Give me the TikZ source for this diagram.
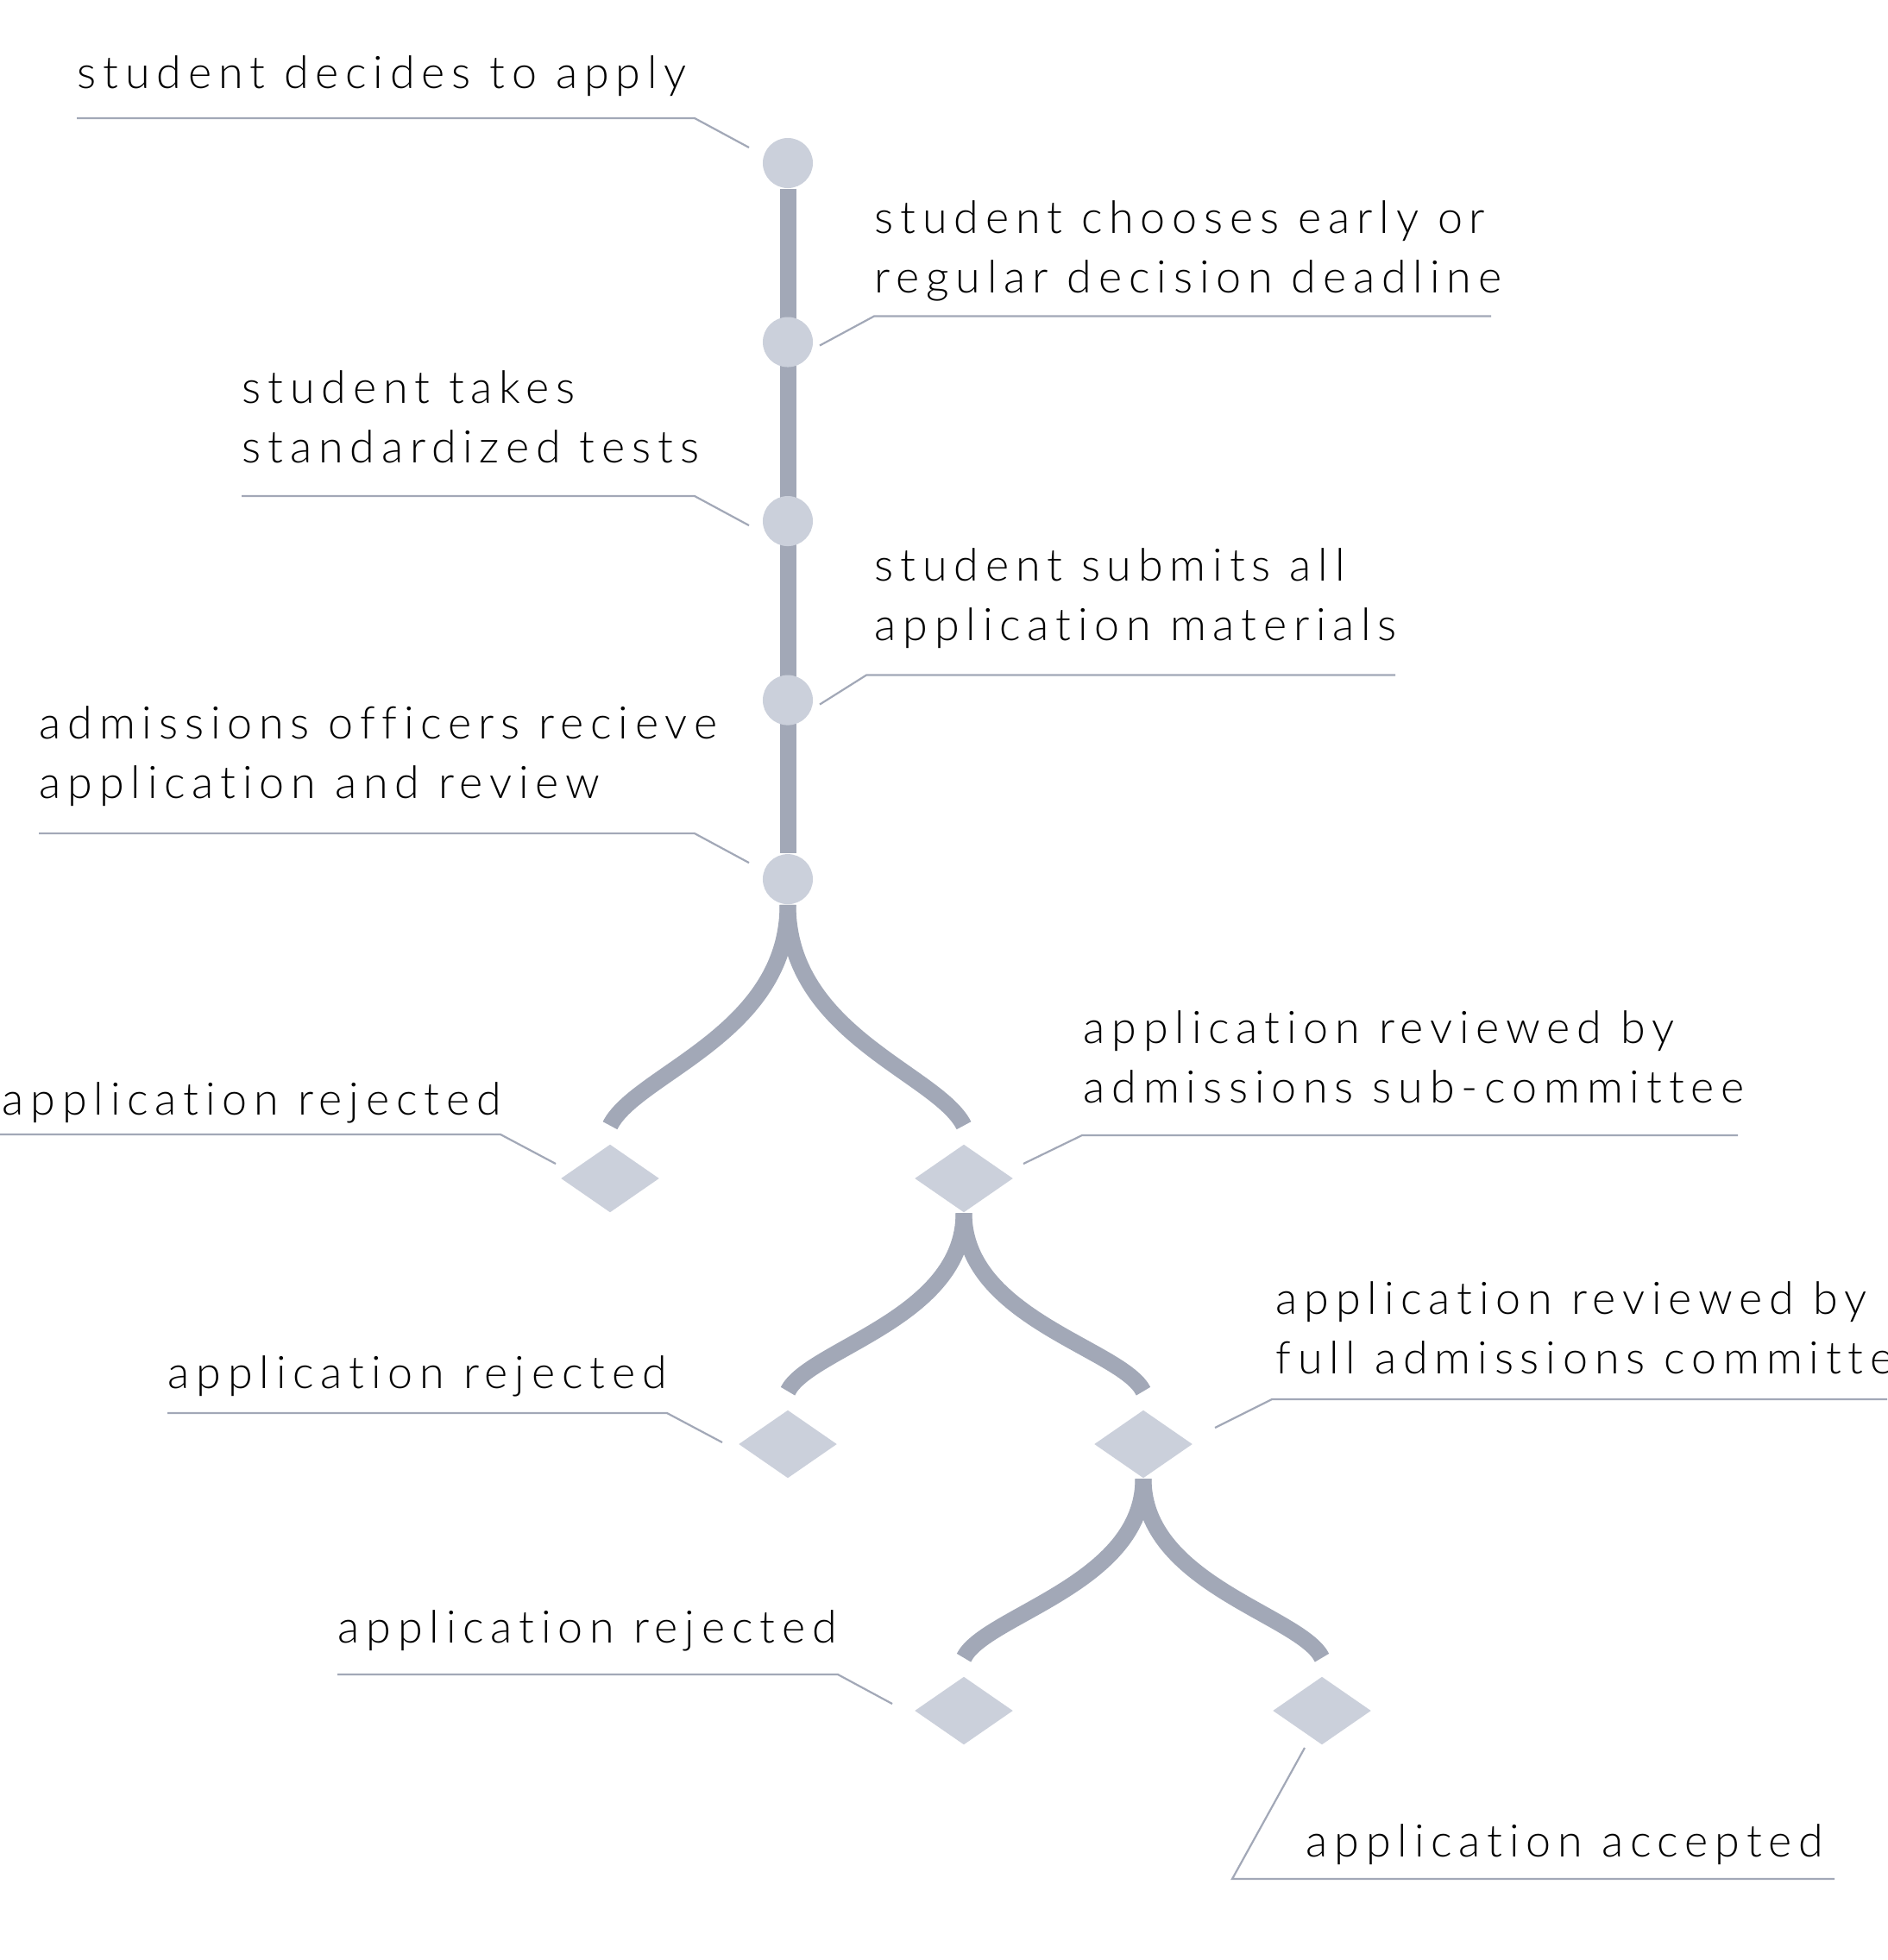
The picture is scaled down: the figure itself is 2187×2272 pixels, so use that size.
\documentclass[tikz,border=0pt]{standalone}
\usepackage{fontspec}
\setmainfont{Lato}[UprightFont={* Light}, LetterSpace=15, Ligatures={NoCommon,NoRare}]
\usetikzlibrary{positioning,shapes.geometric,backgrounds}
\definecolor{trunkgrey}{HTML}{A2A8B7}
\definecolor{stopgrey}{HTML}{CBD0DB}

\begin{document}
\begin{tikzpicture}[
    x=0.01cm, y=-0.01cm,
    node distance=1.48cm,
    milestone/.style={circle, fill=stopgrey, minimum size=0.58cm, inner sep=0},
    verdict/.style={diamond, fill=stopgrey, minimum width=1.14cm, minimum height=0.79cm, inner sep=0},
    note/.style={anchor=base west, inner sep=0, align=left, font=\fontsize{14.8pt}{0.68cm}\selectfont},
    trunk/.style={draw=trunkgrey, line width=0.19cm},
    leader/.style={draw=trunkgrey, line width=0.022cm}
]
\useasboundingbox (0,0) rectangle (2187,2272);
\clip (0,0) rectangle (2187,2272);

% timeline of the student
\node[milestone] (c1) at (913,189) {};
\node[milestone, below=of c1] (c2) {};
\node[milestone, below=of c2] (c3) {};
\node[milestone, below=of c3] (c4) {};
\node[milestone, below=of c4] (c5) {};

% decisions
\node[verdict] (d1) at (707,1366) {};
\node[verdict] (d2) at (1117,1366) {};
\node[verdict] (d3) at (913,1674) {};
\node[verdict] (d4) at (1325,1674) {};
\node[verdict] (d5) at (1117,1983) {};
\node[verdict] (d6) at (1532,1983) {};

% labels (two-line ones sit on their last line)
\node[note] (l1) at (89,102) {student decides to apply};
\node[note] (l2) at (1013,339) {student chooses early or\\regular decision deadline};
\node[note] (l3) at (280,536) {student takes\\standardized tests};
\node[note] (l4) at (1013,742) {student submits all\\application materials};
\node[note] (l5) at (45,925) {admissions officers recieve\\application and review};
\node[note] (r1) at (2,1292) {application rejected};
\node[note] (l7) at (1255,1278) {application reviewed by\\admissions sub-committee};
\node[note] (r2) at (194,1609) {application rejected};
\node[note] (l9) at (1478,1592) {application reviewed by\\full admissions committee};
\node[note] (r3) at (391,1904) {application rejected};
\node[note] (l11) at (1513,2152) {application accepted};

% leaders
\draw[leader] ([shift={(-45,-18)}]c1.center) -- ++(-63,-34) -- ++(-716,0);
\draw[leader] ([shift={(37,4)}]c2.center) -- ++(63,-34) -- ++(715,0);
\draw[leader] ([shift={(-45,5)}]c3.center) -- ++(-63,-34) -- ++(-525,0);
\draw[leader] ([shift={(37,5)}]c4.center) -- ++(54,-34) -- ++(613,0);
\draw[leader] ([shift={(-45,-19)}]c5.center) -- ++(-63,-34) -- ++(-760,0);
\draw[leader] ([shift={(-63,-17)}]d1.center) -- ++(-64,-34) -- ++(-580,0);
\draw[leader] ([shift={(69,-17)}]d2.center) -- ++(68,-33) -- ++(760,0);
\draw[leader] ([shift={(-76,-2)}]d3.center) -- ++(-64,-34) -- ++(-579,0);
\draw[leader] ([shift={(83,-19)}]d4.center) -- ++(66,-33) -- ++(760,0);
\draw[leader] ([shift={(-83,-8)}]d5.center) -- ++(-63,-34) -- ++(-580,0);
\draw[leader] ([shift={(-20,43)}]d6.center) -- ++(-84,152) -- ++(698,0);

% trunk and branches
\begin{scope}[on background layer]
\draw[trunk] (c1) -- (c5);
\draw[trunk] (c5.south) .. controls +(0,150) and +(30,-60) .. ([yshift=6]d1.north);
\draw[trunk] (c5.south) .. controls +(0,150) and +(-30,-60) .. ([yshift=6]d2.north);
\draw[trunk] (d2.south) .. controls +(0,122) and +(24,-49) .. ([yshift=6]d3.north);
\draw[trunk] (d2.south) .. controls +(0,122) and +(-24,-49) .. ([yshift=6]d4.north);
\draw[trunk] (d4.south) .. controls +(0,122) and +(24,-49) .. ([yshift=6]d5.north);
\draw[trunk] (d4.south) .. controls +(0,122) and +(-24,-49) .. ([yshift=6]d6.north);
\end{scope}

\end{tikzpicture}
\end{document}
